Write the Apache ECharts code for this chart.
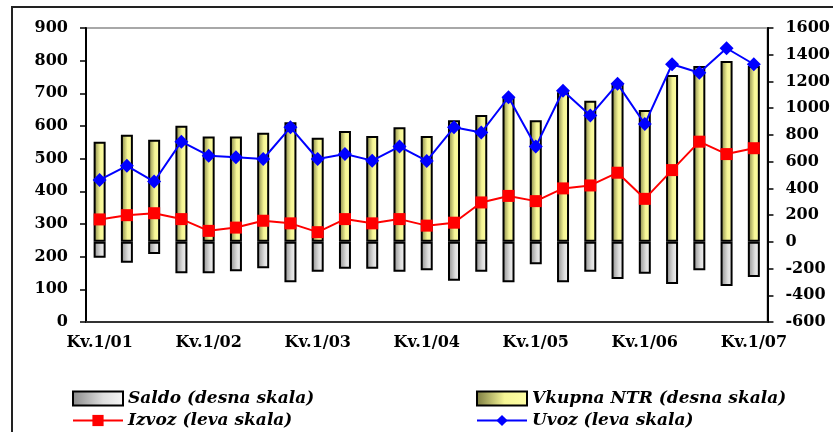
<!DOCTYPE html>
<html>
<head>
<meta charset="utf-8">
<script src="https://cdn.jsdelivr.net/npm/echarts@6/dist/echarts.min.js"></script>
<style>
  html, body { margin: 0; padding: 0; background: #fff; }
  #grafik { width: 833px; height: 432px; }
</style>
</head>
<body>
<div id="grafik"></div>
<script>
var kvartali = [];
for (var g = 1; g <= 7; g++) {
    for (var k = 1; k <= 4; k++) {
        if (g === 7 && k > 1) break;
        kvartali.push('Kv.' + k + '/0' + g);
    }
}

var saldo = [-119, -156, -91, -236, -236, -221, -198, -303, -224, -201, -201, -224, -213,
    -291, -224, -303, -168, -303, -224, -278, -239, -316, -213, -331, -263];
var vkupnaNTR = [749, 802, 764, 869, 789, 789, 817, 894, 779, 829, 792, 857, 792,
    909, 949, 1081, 909, 1119, 1056, 1186, 986, 1248, 1316, 1353, 1316];
var izvoz = [314, 327, 333, 315, 279, 289, 310, 302, 275, 315, 302, 315, 295,
    304, 366, 386, 370, 409, 418, 457, 377, 465, 552, 514, 532];
var uvoz = [435, 478, 430, 552, 509, 504, 499, 596, 499, 514, 494, 537, 493,
    596, 580, 688, 537, 708, 632, 729, 606, 789, 763, 838, 789];

var fontTick = 'DejaVu Serif';

function legenda(ime, levo, gore, ikona) {
    var l = {
        left: levo, top: gore, padding: 0,
        itemWidth: 50, itemHeight: 14, itemGap: 6,
        textStyle: {
            fontFamily: fontTick, fontWeight: 'bold', fontStyle: 'italic',
            fontSize: 17, color: '#000'
        },
        data: [ime]
    };
    if (ikona) l.icon = ikona;
    return l;
}

function exibeGrafico() {
    var myChart = echarts.init(document.getElementById('grafik'));

    var sivo = new echarts.graphic.LinearGradient(0, 0, 1, 0, [
        { offset: 0, color: '#8a8a8a' },
        { offset: 0.6, color: '#dedede' },
        { offset: 1, color: '#f6f6f6' }
    ]);
    var zolto = new echarts.graphic.LinearGradient(0, 0, 1, 0, [
        { offset: 0, color: '#7a7a40' },
        { offset: 0.55, color: '#f6f696' },
        { offset: 1, color: '#ffffa6' }
    ]);

    var tickFont = {
        color: '#000', fontFamily: fontTick, fontWeight: 'bold', fontSize: 16
    };

    var option = {
        animation: false,
        graphic: [{
            type: 'rect',
            shape: { x: 12, y: 7, width: 840, height: 450 },
            style: { fill: 'none', stroke: '#222', lineWidth: 2 },
            silent: true
        }],
        grid: {
            left: 86, right: 64, top: 28, bottom: 110,
            show: true, borderColor: '#a8a8a8', borderWidth: 2
        },
        legend: [
            legenda('Saldo (desna skala)', 72, 390, 'rect'),
            legenda('Izvoz (leva skala)', 72, 412),
            legenda('Vkupna NTR (desna skala)', 476, 390, 'rect'),
            legenda('Uvoz (leva skala)', 476, 412)
        ],
        xAxis: {
            type: 'category',
            data: kvartali,
            boundaryGap: true,
            axisLine: { lineStyle: { color: '#333', width: 2 } },
            axisTick: { interval: 0, length: 6, lineStyle: { color: '#333', width: 1.5 } },
            axisLabel: Object.assign({ interval: 3, margin: 13 }, tickFont)
        },
        yAxis: [{
            type: 'value',
            min: 0, max: 900, interval: 100,
            splitLine: { show: false },
            axisLine: { show: true, lineStyle: { color: '#000', width: 2 } },
            axisTick: { show: true, length: 6, lineStyle: { color: '#000', width: 1.5 } },
            axisLabel: Object.assign({ margin: 18 }, tickFont)
        }, {
            type: 'value',
            min: -600, max: 1600, interval: 200,
            splitLine: { show: false },
            axisLine: { show: true, lineStyle: { color: '#000', width: 2 } },
            axisTick: { show: true, length: 6, lineStyle: { color: '#000', width: 1.5 } },
            axisLabel: Object.assign({
                margin: 18,
                formatter: function (v) { return String(v); }
            }, tickFont)
        }],
        series: [
            {
                name: 'Saldo (desna skala)',
                type: 'bar',
                yAxisIndex: 1,
                data: saldo,
                barWidth: 12,
                barGap: '-100%',
                itemStyle: { color: sivo, borderColor: '#000', borderWidth: 2 }
            },
            {
                name: 'Vkupna NTR (desna skala)',
                type: 'bar',
                yAxisIndex: 1,
                data: vkupnaNTR,
                barWidth: 12,
                itemStyle: { color: zolto, borderColor: '#000', borderWidth: 2 }
            },
            {
                name: 'Izvoz (leva skala)',
                type: 'line',
                yAxisIndex: 0,
                data: izvoz,
                symbol: 'rect',
                symbolSize: 12,
                lineStyle: { color: '#ff0000', width: 2 },
                itemStyle: { color: '#ff0000' }
            },
            {
                name: 'Uvoz (leva skala)',
                type: 'line',
                yAxisIndex: 0,
                data: uvoz,
                symbol: 'diamond',
                symbolSize: 14,
                lineStyle: { color: '#0000ff', width: 2 },
                itemStyle: { color: '#0000ff' }
            }
        ]
    };

    myChart.setOption(option);
}

exibeGrafico();
</script>
</body>
</html>
